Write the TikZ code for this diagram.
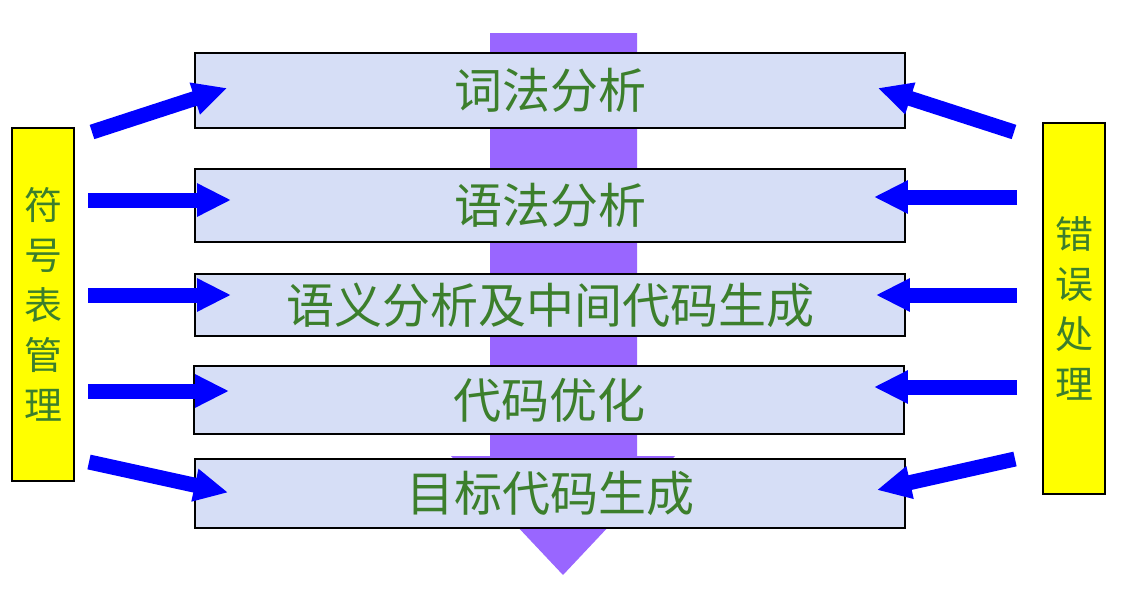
\documentclass[tikz,border=0pt]{standalone}
\usepackage{fontspec}
\newfontfamily\cjk{Noto Sans CJK SC}
\usepackage{tikz}
\usetikzlibrary{arrows.meta}
\definecolor{phasefill}{HTML}{D6DEF6}
\definecolor{phasetext}{HTML}{3C7F2C}
\definecolor{flowpurple}{HTML}{9966FF}
\definecolor{sideyellow}{HTML}{FFFF00}
\definecolor{feedblue}{HTML}{0000FF}
\begin{document}
\begin{tikzpicture}[x=1pt, y=-1pt,
  phase/.style={draw=black, line width=1.8pt, fill=phasefill, text=phasetext, minimum width=710pt, inner sep=0pt, font=\cjk\fontsize{48}{48}\selectfont},
  side/.style={draw=black, line width=1.8pt, fill=sideyellow, text=phasetext, minimum width=62pt, inner sep=0pt, align=center, font=\cjk\fontsize{38}{50}\selectfont},
  feed/.style={-{Triangle[length=34pt, width=31pt]}, feedblue, line width=15pt}
]
  \useasboundingbox (0,0) rectangle (1138,605);
  \fill[flowpurple] (490,33) -- (637,33) -- (637,456) -- (675,456) -- (563,575) -- (451,456) -- (490,456) -- cycle;

  \node[phase, minimum height=75pt] (lex) at (550,90.5) {\raisebox{2pt}{词法分析}};
  \node[phase, minimum height=73pt] (syn) at (550,205.5) {\raisebox{2pt}{语法分析}};
  \node[phase, minimum height=62pt] (sem) at (550,305) {\raisebox{2pt}{语义分析及中间代码生成}};
  \node[phase, minimum height=68pt] (opt) at (549,400) {\raisebox{4pt}{代码优化}};
  \node[phase, minimum height=69pt] (gen) at (550,493.5) {\raisebox{2pt}{目标代码生成}};

  \node[side, minimum height=353pt] (sym) at (43,304.5) {符\\号\\表\\管\\理};
  \node[side, minimum height=371pt] (err) at (1074,308.5) {错\\误\\处\\理};

  \coordinate (symlex) at (92,132);
  \coordinate (symsyn) at (88,200);
  \coordinate (symsem) at (88,295);
  \coordinate (symopt) at (88,391);
  \coordinate (symgen) at (89,462);
  \coordinate (errlex) at (1014,132);
  \coordinate (errsyn) at (1017,197);
  \coordinate (errsem) at (1017,295);
  \coordinate (erropt) at (1017,387);
  \coordinate (errgen) at (1015,459);

  \draw[feed] (symlex) -- ([shift={(33,-2.5)}]lex.west);
  \draw[feed] (symsyn) -- ([shift={(37,-5.5)}]syn.west);
  \draw[feed] (symsem) -- ([shift={(37,-10)}]sem.west);
  \draw[feed] (symopt) -- ([shift={(36,-9)}]opt.west);
  \draw[feed] (symgen) -- ([shift={(34,-1)}]gen.west);
  \draw[feed] (errlex) -- ([shift={(-28,-2.5)}]lex.east);
  \draw[feed] (errsyn) -- ([shift={(-32,-8.5)}]syn.east);
  \draw[feed] (errsem) -- ([shift={(-30,-10)}]sem.east);
  \draw[feed] (erropt) -- ([shift={(-31,-13)}]opt.east);
  \draw[feed] (errgen) -- ([shift={(-29,-3.5)}]gen.east);
\end{tikzpicture}
\end{document}
